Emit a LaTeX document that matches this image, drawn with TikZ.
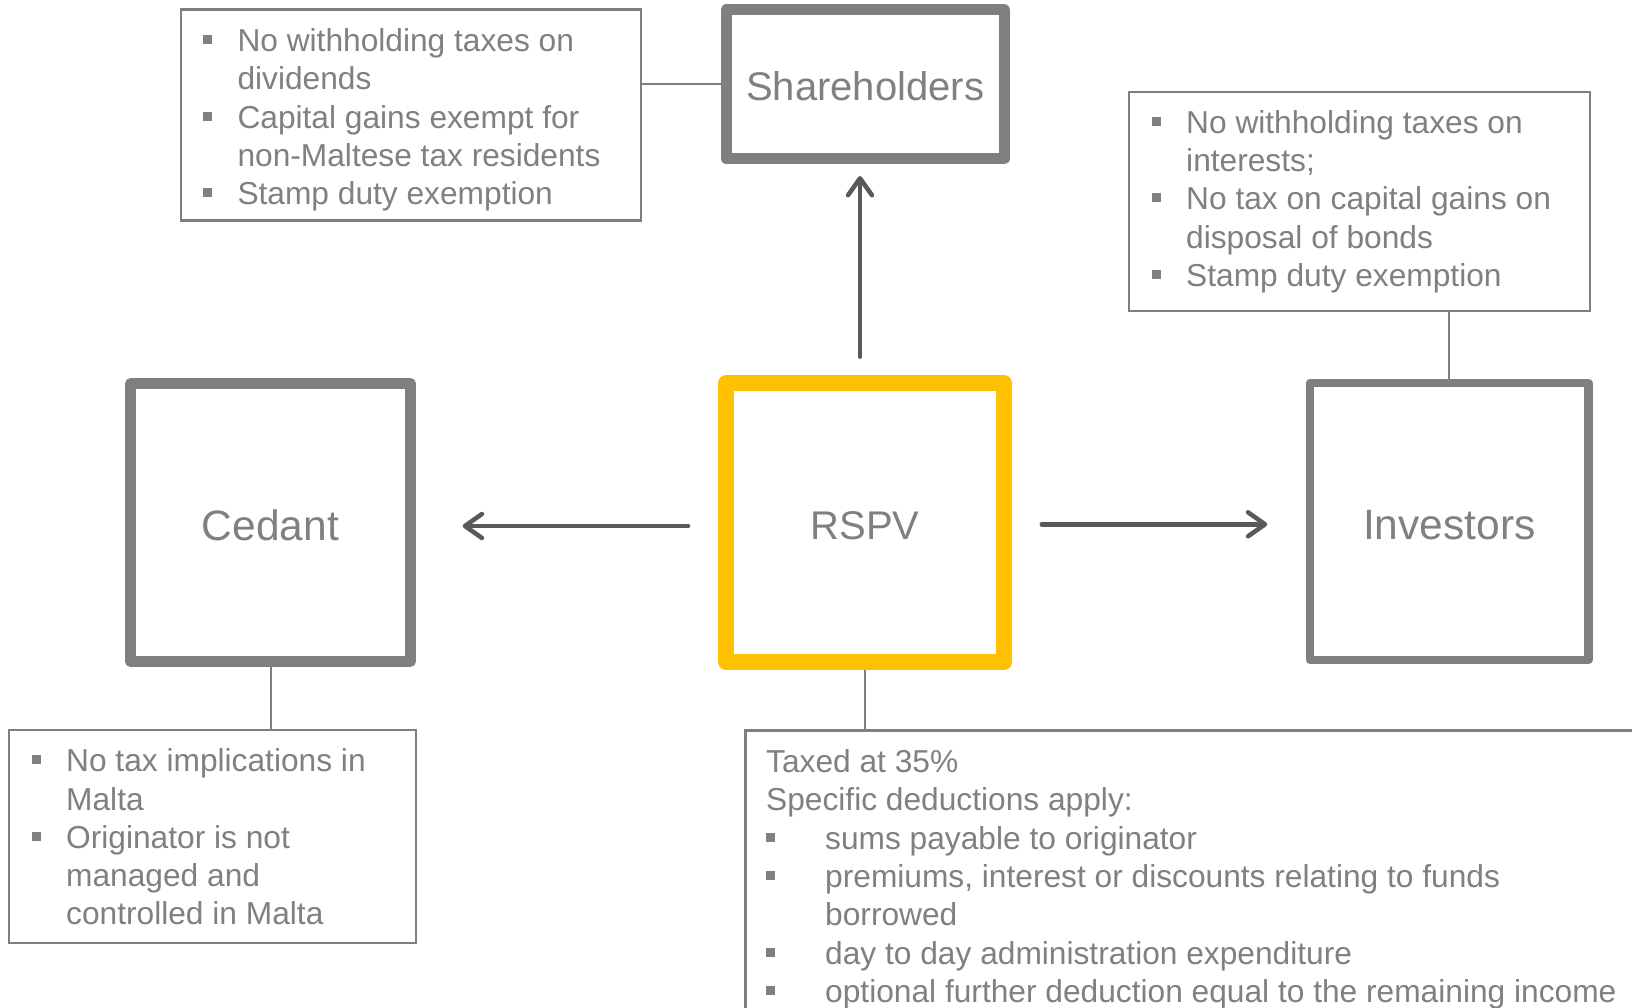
\documentclass[tikz,border=0pt]{standalone}
\usepackage{fontspec}
\setmainfont{Liberation Sans}
\usetikzlibrary{arrows.meta}
\definecolor{boxgray}{RGB}{127,127,127}
\definecolor{txtgray}{RGB}{128,128,128}
\definecolor{arrgray}{RGB}{89,89,89}
\definecolor{rspvyellow}{RGB}{255,192,0}
\newcommand{\bsq}{\makebox[34.3pt][l]{\rule[7.5pt]{9pt}{9pt}}}
\newcommand{\bsqw}{\makebox[59pt][l]{\rule[7.5pt]{9pt}{9pt}}}
\begin{document}
\begin{tikzpicture}[x=1pt,y=-1pt,
  entity/.style={draw=boxgray, rectangle, line join=round, inner sep=0pt, text=txtgray, font=\fontsize{40}{48}\selectfont, text height=33.6pt, text depth=0pt},
  bigtitle/.style={font=\fontsize{42.5}{50}\selectfont, text height=35.4pt, text depth=0pt},
  infobox/.style={draw=boxgray, rectangle, line width=2.3pt, inner sep=0pt},
  infotext/.style={anchor=base west, inner sep=0pt, text=txtgray, font=\fontsize{31.7}{38.3}\selectfont},
  link/.style={draw=boxgray, line width=2pt},
  arr/.style={draw=arrgray, line width=4.5pt, line cap=round, -{Straight Barb[length=17pt,width=24pt,line cap=round,line join=round]}}
]
\clip (0,0) rectangle (1632,1008);
\fill[white] (0,0) rectangle (1632,1008);

% main entities
\node[entity, line width=11pt, minimum width=278pt, minimum height=149.4pt] (sh) at (865.2,84.2) {Shareholders};
\node[entity, bigtitle, line width=11pt, minimum width=280pt, minimum height=277.4pt] (ced) at (270.5,522.5) {Cedant};
\node[entity, draw=rspvyellow, line width=16pt, minimum width=277.7pt, minimum height=279pt] (rspv) at (865.2,522.5) {RSPV};
\node[entity, bigtitle, line width=8.3pt, minimum width=278.7pt, minimum height=276.7pt] (inv) at (1449.2,521.5) {Investors};

% info boxes
\node[infobox, minimum width=460pt, minimum height=211pt] (tl) at (411,115) {};
\node[infobox, minimum width=461pt, minimum height=219pt] (tr) at (1359.5,201.2) {};
\node[infobox, minimum width=406.7pt, minimum height=213.3pt] (bl) at (212.65,836.65) {};
\node[infobox, minimum width=954.5pt, minimum height=369.5pt] (br) at (1222.75,915.25) {};

% texts
\node[infotext] (tltext) at (203,51.5) {\begin{tabular}[t]{@{}l@{}l@{}}
\bsq & No withholding taxes on\\
 & dividends\\
\bsq & Capital gains exempt for\\
 & non-Maltese tax residents\\
\bsq & Stamp duty exemption
\end{tabular}};
\node[infotext] (trtext) at (1151.7,133.4) {\begin{tabular}[t]{@{}l@{}l@{}}
\bsq & No withholding taxes on\\
 & interests;\\
\bsq & No tax on capital gains on\\
 & disposal of bonds\\
\bsq & Stamp duty exemption
\end{tabular}};
\node[infotext] (bltext) at (31.7,771.7) {\begin{tabular}[t]{@{}l@{}l@{}}
\bsq & No tax implications in\\
 & Malta\\
\bsq & Originator is not\\
 & managed and\\
 & controlled in Malta
\end{tabular}};
\node[infotext] (brtext) at (766,772.5) {\begin{tabular}[t]{@{}l@{}l@{}}
\multicolumn{2}{@{}l@{}}{Taxed at 35\%}\\
\multicolumn{2}{@{}l@{}}{Specific deductions apply:}\\
\bsqw & sums payable to originator\\
\bsqw & premiums, interest or discounts relating to funds\\
 & borrowed\\
\bsqw & day to day administration expenditure\\
\bsqw & optional further deduction equal to the remaining income
\end{tabular}};

% thin links
\draw[link] (sh.west) -- (sh.west -| tl.east);
\draw[link] (inv.north) -- (inv.north |- tr.south);
\draw[link] (ced.south) -- (ced.south |- bl.north);
\draw[link] (rspv.south) -- (rspv.south |- br.north);

% arrows
\draw[arr] ([xshift=-30.3pt,yshift=-3.5pt]rspv.west) -- ([xshift=46.7pt,yshift=-3.5pt]ced.east);
\draw[arr] ([xshift=29.7pt,yshift=-1.8pt]rspv.east) -- ([xshift=-38.4pt,yshift=-2.8pt]inv.west);
\draw[arr] ([xshift=-5.2pt,yshift=18.3pt]rspv.north) -- ([xshift=-5.2pt,yshift=-11.6pt]sh.south);
\end{tikzpicture}
\end{document}
